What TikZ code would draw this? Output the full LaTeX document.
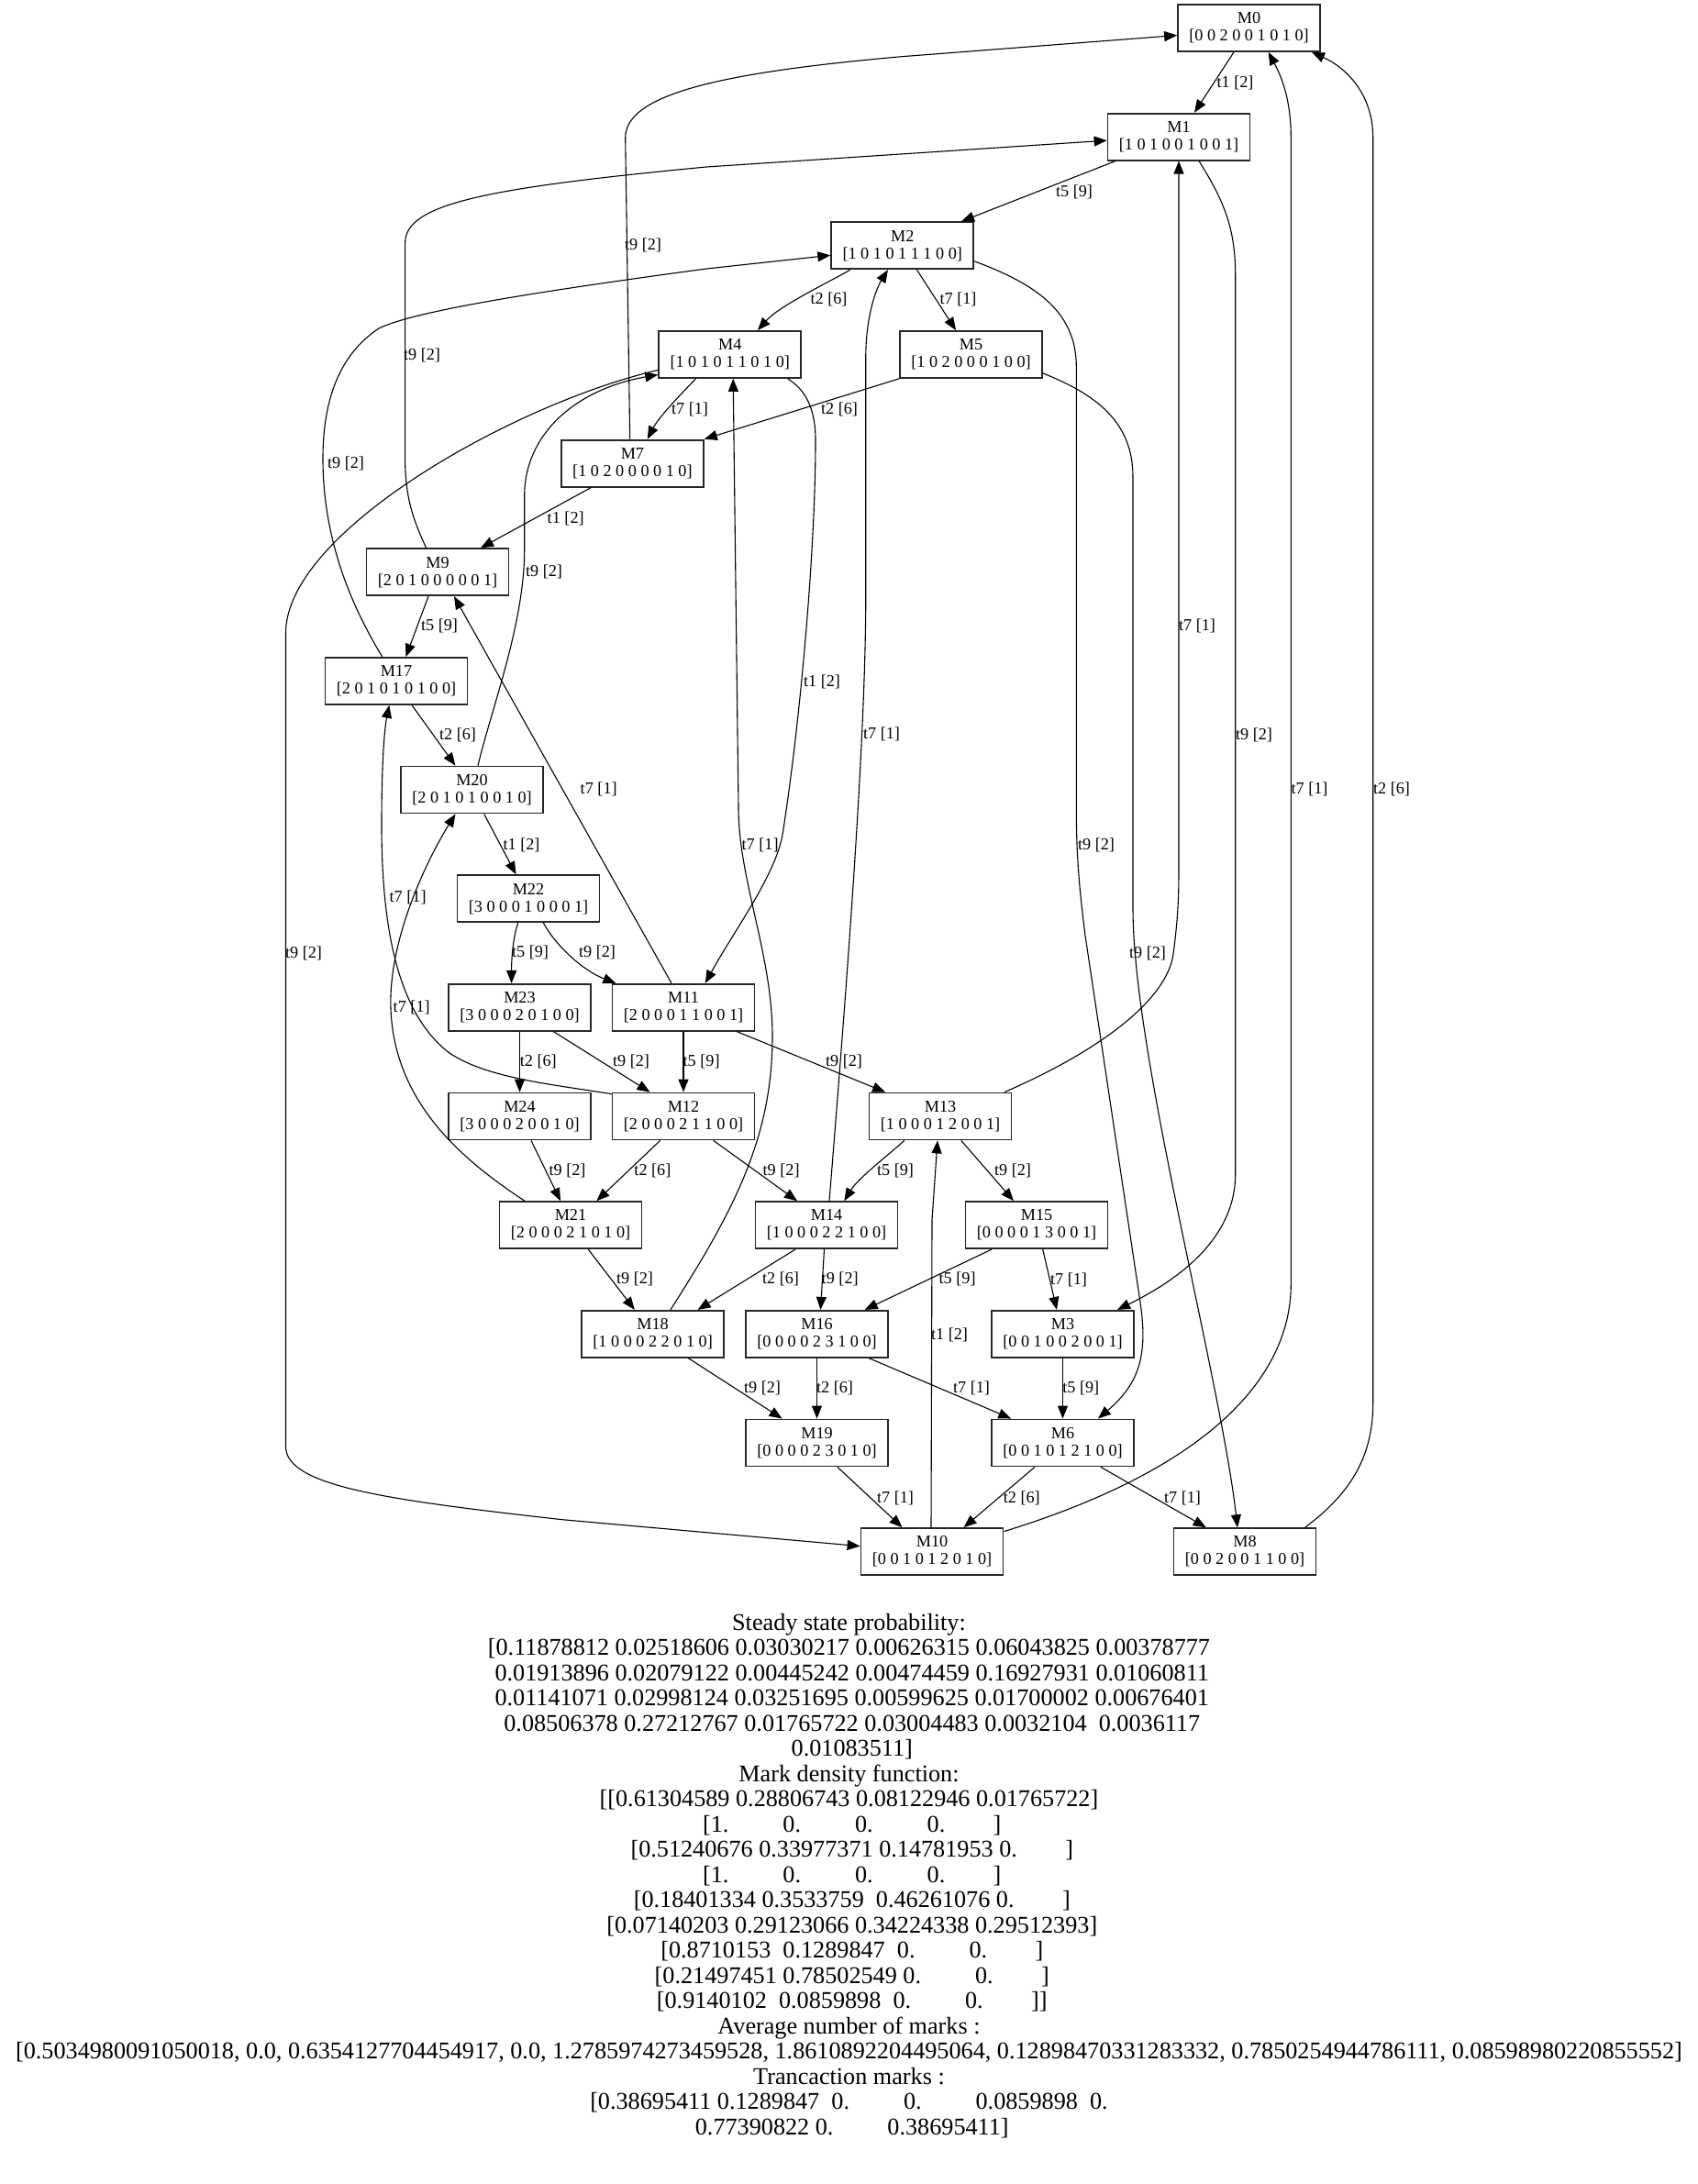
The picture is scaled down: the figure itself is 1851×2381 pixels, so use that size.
\documentclass[tikz,border=0pt]{standalone}
\usepackage{fontspec}
\setmainfont{Liberation Serif}
\usetikzlibrary{arrows.meta,calc}
\begin{document}
\begin{tikzpicture}[x=0.5pt,y=-0.5pt,
  mk/.style={draw=black!85,line width=0.9pt,minimum width=77.5pt,minimum height=25.5pt,inner sep=0pt,align=center,font=\fontsize{9.1pt}{9.5pt}\selectfont},
  edg/.style={draw,line width=0.55pt,-{Triangle[length=7pt,width=5.5pt]}},
  lab/.style={font=\fontsize{9.1pt}{9.5pt}\selectfont,inner sep=0pt}]
\fill[white] (0,0) rectangle (1851,2381);
\useasboundingbox (0,0) rectangle (1851,2381);
% nodes
\node[mk] (M0)  at (1361.5,30.5)   {M0\\{}[0 0 2 0 0 1 0 1 0]};
\node[mk] (M1)  at (1285,149.15)   {M1\\{}[1 0 1 0 0 1 0 0 1]};
\node[mk] (M2)  at (983.7,267.8)   {M2\\{}[1 0 1 0 1 1 1 0 0]};
\node[mk] (M4)  at (795.7,386.45)  {M4\\{}[1 0 1 0 1 1 0 1 0]};
\node[mk] (M5)  at (1058.5,386.45) {M5\\{}[1 0 2 0 0 0 1 0 0]};
\node[mk] (M7)  at (689.4,505.1)   {M7\\{}[1 0 2 0 0 0 0 1 0]};
\node[mk] (M9)  at (477,623.75)    {M9\\{}[2 0 1 0 0 0 0 0 1]};
\node[mk] (M17) at (432,742.4)     {M17\\{}[2 0 1 0 1 0 1 0 0]};
\node[mk] (M20) at (514.5,861.05)  {M20\\{}[2 0 1 0 1 0 0 1 0]};
\node[mk] (M22) at (576,979.7)     {M22\\{}[3 0 0 0 1 0 0 0 1]};
\node[mk] (M23) at (566.5,1098.35) {M23\\{}[3 0 0 0 2 0 1 0 0]};
\node[mk] (M11) at (745,1098.35)   {M11\\{}[2 0 0 0 1 1 0 0 1]};
\node[mk] (M24) at (566.5,1217)    {M24\\{}[3 0 0 0 2 0 0 1 0]};
\node[mk] (M12) at (745,1217)      {M12\\{}[2 0 0 0 2 1 1 0 0]};
\node[mk] (M13) at (1025,1217)     {M13\\{}[1 0 0 0 1 2 0 0 1]};
\node[mk] (M21) at (622,1335.65)   {M21\\{}[2 0 0 0 2 1 0 1 0]};
\node[mk] (M14) at (901,1335.65)   {M14\\{}[1 0 0 0 2 2 1 0 0]};
\node[mk] (M15) at (1130,1335.65)  {M15\\{}[0 0 0 0 1 3 0 0 1]};
\node[mk] (M18) at (711.6,1454.3)  {M18\\{}[1 0 0 0 2 2 0 1 0]};
\node[mk] (M16) at (890.5,1454.3)  {M16\\{}[0 0 0 0 2 3 1 0 0]};
\node[mk] (M3)  at (1158.5,1454.3) {M3\\{}[0 0 1 0 0 2 0 0 1]};
\node[mk] (M19) at (890.5,1572.95) {M19\\{}[0 0 0 0 2 3 0 1 0]};
\node[mk] (M6)  at (1158.5,1572.95){M6\\{}[0 0 1 0 1 2 1 0 0]};
\node[mk] (M10) at (1016,1691.6)   {M10\\{}[0 0 1 0 1 2 0 1 0]};
\node[mk] (M8)  at (1357,1691.6)   {M8\\{}[0 0 2 0 0 1 1 0 0]};
% edges
\draw[edg] ($(M0.south)+(-16.5,0)$) -- ($(M1.north)+(17,0)$) node[lab] (l1) at (1346.5,90) {t1 [2]};
\draw[edg] ($(M1.south)+(-69,0)$) -- ($(M2.north)+(64.3,0)$) node[lab] (l2) at (1171,209) {t5 [9]};
\draw[edg] ($(M1.south)+(22,0)$) .. controls (1335,220) and (1346.7,250) .. (1346.7,300) -- (1346.7,1280) .. controls (1346.7,1350) and (1285,1395) .. ($(M3.north)+(59.5,0)$) node[lab] (l3) at (1367,801.7) {t9 [2]};
\draw[edg] ($(M2.south)+(-57,0)$) .. controls (905,307) and (850,333) .. ($(M4.north)+(30.3,0)$) node[lab] (l4) at (903.5,326.7) {t2 [6]};
\draw[edg] ($(M2.south)+(15.8,0)$) -- ($(M5.north)+(-16.5,0)$) node[lab] (l5) at (1044.5,326.7) {t7 [1]};
\draw[edg] ($(M2.east)+(0,17)$) .. controls (1130,310) and (1173.3,340) .. (1173.3,400) -- (1173.3,880) .. controls (1173.3,930) and (1176,965) .. (1183,1020) -- (1243,1420) .. controls (1252,1480) and (1240,1510) .. ($(M6.north)+(38.5,0)$) node[lab] (l6) at (1195,921) {t9 [2]};
\draw[edg] ($(M4.south)+(-37.2,0)$) .. controls (740,432) and (718,455) .. ($(M7.north)+(16.4,0)$) node[lab] (l7) at (752,446) {t7 [1]};
\draw[edg] (M5.south west) -- (M7.north east) node[lab] (l8) at (915,446) {t2 [6]};
\draw[edg] ($(M5.east)+(0,20.5)$) .. controls (1195,430) and (1235,460) .. (1235,520) -- (1235,990) .. controls (1235,1150) and (1330,1500) .. ($(M8.north)+(-8,0)$) node[lab] (l9) at (1251,1039.3) {t9 [2]};
\draw[edg] ($(M4.south)+(63,0)$) .. controls (878,425) and (889,445) .. (889,480) .. controls (889,600) and (872,790) .. (853,910) .. controls (845,955) and (800,1015) .. ($(M11.north)+(23.75,0)$) node[lab] (l10) at (896,743) {t1 [2]};
\draw[edg] ($(M7.north)+(-2.7,0)$) -- (681.7,150) .. controls (681.7,100) and (800,78) .. (983,61.7) -- ($(M0.west)+(0,8)$) node[lab] (l11) at (701,267) {t9 [2]};
\draw[edg] ($(M7.south)+(-45,0)$) -- ($(M9.north)+(47,0)$) node[lab] (l12) at (616.7,565) {t1 [2]};
\draw[edg] ($(M9.north)+(-12.4,0)$) .. controls (452,570) and (441.6,545) .. (441.6,500) -- (441.6,265) .. controls (441.6,222) and (530,205) .. (770,182) -- ($(M1.west)+(0,4)$) node[lab] (l13) at (460,387) {t9 [2]};
\draw[edg] ($(M9.south)+(-10,0)$) -- ($(M17.north)+(10.4,0)$) node[lab] (l14) at (479,682.7) {t5 [9]};
\draw[edg] ($(M17.north)+(-15.3,0)$) .. controls (392,675) and (352,600) .. (352,500) .. controls (352,420) and (380,380) .. (413,358) .. controls (450,340) and (570,320) .. (770,293) -- ($(M2.west)+(0,10.5)$) node[lab] (l15) at (377,505) {t9 [2]};
\draw[edg] ($(M17.south)+(17,0)$) -- ($(M20.north)+(-18.1,0)$) node[lab] (l16) at (499,801.7) {t2 [6]};
\draw[edg] ($(M20.north)+(6.5,0)$) .. controls (535,775) and (571.7,680) .. (571.7,600) -- (571.7,540) .. controls (572,475) and (625,425) .. ($(M4.west)+(0,22)$) node[lab] (l17) at (593,623) {t9 [2]};
\draw[edg] ($(M4.west)+(0,17)$) .. controls (560,440) and (311.5,580) .. (311.5,690) -- (311.5,1577) .. controls (311.5,1620) and (420,1635) .. (613,1656.7) -- ($(M10.west)+(0,-6)$) node[lab] (l18) at (331,1039) {t9 [2]};
\draw[edg] ($(M20.south)+(13.2,0)$) -- ($(M22.north)+(-13.5,0)$) node[lab] (l19) at (568.5,921.4) {t1 [2]};
\draw[edg] ($(M22.south)+(-11.3,0)$) .. controls (560,1020) and (557.6,1040) .. ($(M23.north)+(-8.9,0)$) node[lab] (l20) at (578,1038.6) {t5 [9]};
\draw[edg] ($(M22.south)+(16.4,0)$) .. controls (605,1030) and (635,1058) .. ($(M11.north)+(-73.6,0)$) node[lab] (l21) at (651,1038.6) {t9 [2]};
\draw[edg] ($(M11.north)+(-13,0)$) -- ($(M9.south)+(18,0)$) node[lab] (l22) at (652.7,860.7) {t7 [1]};
\draw[edg] (M23) -- (M24) node[lab] (l23) at (586.8,1157) {t2 [6]};
\draw[edg] ($(M23.south)+(37.1,0)$) -- ($(M12.north)+(-36.5,0)$) node[lab] (l24) at (688,1157) {t9 [2]};
\draw[edg] (M11) -- (M12) node[lab] (l25) at (764.6,1157) {t5 [9]};
\draw[edg] ($(M11.south)+(58.6,0)$) -- ($(M13.north)+(-60,0)$) node[lab] (l26) at (920,1157) {t9 [2]};
\draw[edg] ($(M12.north west)+(0,2)$) .. controls (600,1182) and (530,1175) .. (490,1148) .. controls (440,1110) and (416,1030) .. (416,900) .. controls (416,820) and (420,790) .. ($(M17.south)+(-7.7,0)$) node[lab] (l27) at (444.6,978.6) {t7 [1]};
\draw[edg] ($(M21.north)+(-50,0)$) .. controls (500,1262) and (430,1200) .. (426,1100) .. controls (423,1020) and (470,930) .. ($(M20.south)+(-18,0)$) node[lab] (l28) at (448.7,1098.2) {t7 [1]};
\draw[edg] ($(M24.south)+(12.5,0)$) -- ($(M21.north)+(-11,0)$) node[lab] (l29) at (618.5,1276.8) {t9 [2]};
\draw[edg] ($(M12.south)+(-25.4,0)$) -- ($(M21.north)+(28.4,0)$) node[lab] (l30) at (711.4,1276.8) {t2 [6]};
\draw[edg] ($(M12.south)+(32.7,0)$) -- ($(M14.north)+(-32,0)$) node[lab] (l31) at (851.6,1276.8) {t9 [2]};
\draw[edg] ($(M13.south)+(-39.2,0)$) .. controls (965,1262) and (935,1285) .. ($(M14.north)+(19.3,0)$) node[lab] (l32) at (976,1276.8) {t5 [9]};
\draw[edg] ($(M13.south)+(22.8,0)$) -- ($(M15.north)+(-25,0)$) node[lab] (l33) at (1104,1276.8) {t9 [2]};
\draw[edg] ($(M13.north)+(70,0)$) .. controls (1200,1145) and (1272,1090) .. (1279,1040) .. controls (1285,995) and (1285,970) .. (1285,940) -- (M1.south) node[lab] (l34) at (1305,682.7) {t7 [1]};
\draw[edg] ($(M14.north)+(3,0)$) .. controls (925,1050) and (943.75,800) .. (943.75,650) -- (943.75,390) .. controls (943.75,345) and (955,315) .. ($(M2.south)+(-15.8,0)$) node[lab] (l35) at (961,800) {t7 [1]};
\draw[edg] ($(M18.north)+(19.3,0)$) .. controls (800,1320) and (842,1240) .. (842,1130) .. controls (842,1040) and (805,960) .. (805,880) -- ($(M4.south)+(3.5,0)$) node[lab] (l36) at (828.6,921.4) {t7 [1]};
\draw[edg] ($(M14.south)+(-34,0)$) -- ($(M18.north)+(49,0)$) node[lab] (l37) at (851,1394.6) {t2 [6]};
\draw[edg] ($(M14.south)+(-2.5,0)$) -- ($(M16.north)+(4,0)$) node[lab] (l38) at (915.7,1394.6) {t9 [2]};
\draw[edg] ($(M15.south)+(-49,0)$) -- ($(M16.north)+(52.2,0)$) node[lab] (l39) at (1043.6,1394.6) {t5 [9]};
\draw[edg] ($(M15.south)+(6.7,0)$) -- ($(M3.north)+(-6.5,0)$) node[lab] (l40) at (1165,1395) {t7 [1]};
\draw[edg] ($(M21.south)+(19.3,0)$) -- ($(M18.north)+(-19.8,0)$) node[lab] (l41) at (692,1394.6) {t9 [2]};
\draw[edg] ($(M18.south)+(38.8,0)$) -- ($(M19.north)+(-37.9,0)$) node[lab] (l42) at (831,1513.6) {t9 [2]};
\draw[edg] (M16) -- (M19) node[lab] (l43) at (910,1513.6) {t2 [6]};
\draw[edg] ($(M16.south)+(56.8,0)$) -- ($(M6.north)+(-56.2,0)$) node[lab] (l44) at (1059,1513.6) {t7 [1]};
\draw[edg] (M3) -- (M6) node[lab] (l45) at (1178.3,1513.6) {t5 [9]};
\draw[edg] ($(M19.south)+(22.4,0)$) -- ($(M10.north)+(-32.5,0)$) node[lab] (l46) at (976,1632.9) {t7 [1]};
\draw[edg] ($(M6.south)+(-30.5,0)$) -- ($(M10.north)+(34.6,0)$) node[lab] (l47) at (1113.8,1632.9) {t2 [6]};
\draw[edg] ($(M6.south)+(41.4,0)$) -- ($(M8.north)+(-42.3,0)$) node[lab] (l48) at (1289,1632.9) {t7 [1]};
\draw[edg] ($(M10.north)+(-1,0)$) -- (1016,1330) -- ($(M13.south)+(-3,0)$) node[lab] (l49) at (1035,1455.4) {t1 [2]};
\draw[edg] ($(M10.east)+(0,-22)$) .. controls (1320,1600) and (1407.3,1500) .. (1407.3,1400) -- (1407.3,150) .. controls (1407.3,105) and (1395,80) .. ($(M0.south)+(21.2,0)$) node[lab] (l50) at (1427.5,860) {t7 [1]};
\draw[edg] ($(M8.north)+(65.6,0)$) .. controls (1470,1630) and (1496.7,1590) .. (1496.7,1530) -- (1496.7,150) .. controls (1496.7,105) and (1470,75) .. ($(M0.south)+(68.5,0)$) node[lab] (l51) at (1517,860) {t2 [6]};
% statistics text
\node[anchor=north,align=center,inner sep=0pt,font=\fontsize{13.1pt}{13.75pt}\selectfont] (stats) at (925.5,1758.5) {Steady state probability:\\{}[0.11878812 0.02518606 0.03030217 0.00626315 0.06043825 0.00378777\\~0.01913896 0.02079122 0.00445242 0.00474459 0.16927931 0.01060811\\~0.01141071 0.02998124 0.03251695 0.00599625 0.01700002 0.00676401\\~0.08506378 0.27212767 0.01765722 0.03004483 0.0032104~~0.0036117\\~0.01083511]\\Mark density function:\\{}[[0.61304589 0.28806743 0.08122946 0.01765722]\\~[1.~~~~~~~~~0.~~~~~~~~~0.~~~~~~~~~0.~~~~~~~~]\\~[0.51240676 0.33977371 0.14781953 0.~~~~~~~~]\\~[1.~~~~~~~~~0.~~~~~~~~~0.~~~~~~~~~0.~~~~~~~~]\\~[0.18401334 0.3533759~~0.46261076 0.~~~~~~~~]\\~[0.07140203 0.29123066 0.34224338 0.29512393]\\~[0.8710153~~0.1289847~~0.~~~~~~~~~0.~~~~~~~~]\\~[0.21497451 0.78502549 0.~~~~~~~~~0.~~~~~~~~]\\~[0.9140102~~0.0859898~~0.~~~~~~~~~0.~~~~~~~~]]\\Average number of marks :\\{}[0.5034980091050018, 0.0, 0.6354127704454917, 0.0, 1.2785974273459528, 1.8610892204495064, 0.12898470331283332, 0.7850254944786111, 0.08598980220855552]\\Trancaction marks :\\{}[0.38695411 0.1289847~~0.~~~~~~~~~0.~~~~~~~~~0.0859898~~0.\\~0.77390822 0.~~~~~~~~~0.38695411]};
\end{tikzpicture}
\end{document}
